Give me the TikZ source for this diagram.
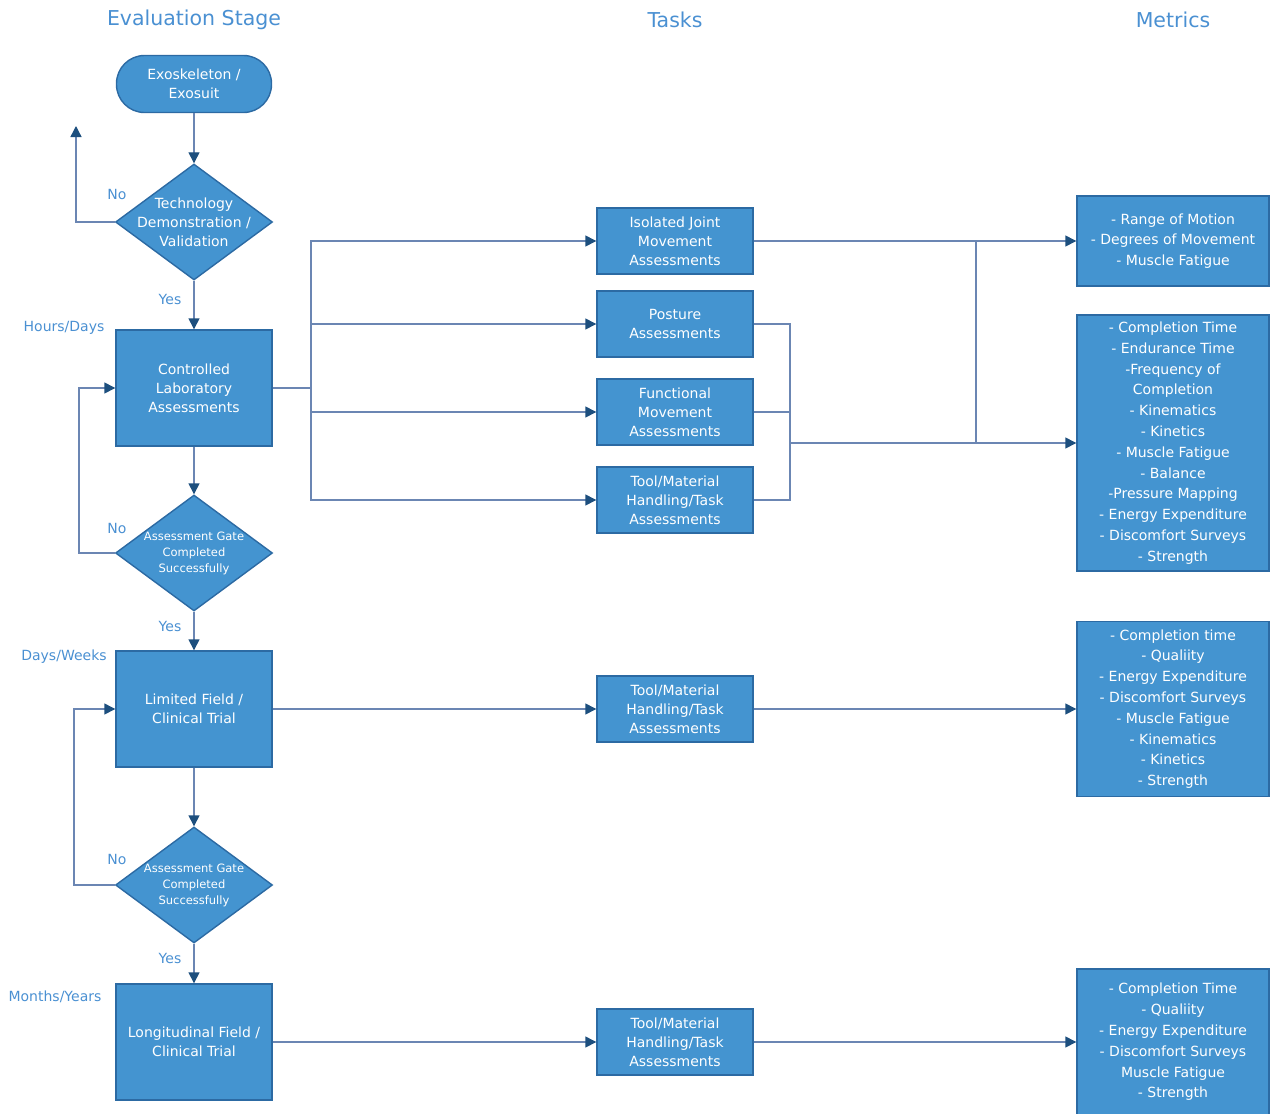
\documentclass[tikz,border=0pt]{standalone}
\usepackage{fontspec}
\setmainfont{DejaVu Sans}
\usepackage{xcolor}
\usepackage{tikz}
\usetikzlibrary{shapes,arrows.meta}
\usetikzlibrary{shapes.geometric}

\definecolor{boxblue}{HTML}{4494D0}
\definecolor{edgeblue}{HTML}{2C6AA3}
\definecolor{lineblue}{HTML}{6B86B3}
\definecolor{tipblue}{HTML}{1D4F7E}
\definecolor{titleblue}{HTML}{4A90D2}

\begin{document}
\begin{tikzpicture}[x=1pt, y=-1pt,
    ttl/.style={text=titleblue, font=\fontsize{20.5}{24}\selectfont},
    lbl/.style={text=titleblue, font=\fontsize{14}{16}\selectfont},
    stage/.style={rectangle, draw=edgeblue, fill=boxblue, line width=1.4pt, text=white, align=center,
                  minimum width=156pt, minimum height=116pt, font=\fontsize{14}{19}\selectfont},
    task/.style={stage, minimum height=66pt},
    metric/.style={stage, minimum width=192pt, font=\fontsize{14}{20.8}\selectfont},
    term/.style={stage, rounded corners=28pt, minimum width=155pt, minimum height=57pt},
    gate/.style={diamond, draw=edgeblue, fill=boxblue, line width=1.4pt, inner sep=0pt,
                 minimum width=157pt, minimum height=116pt},
    gatetext/.style={text=white, align=center, font=\fontsize{14}{19}\selectfont},
    gatesmall/.style={text=white, align=center, font=\fontsize{11.5}{16}\selectfont},
    line/.style={draw=lineblue, line width=1.4pt},
    flow/.style={line, -{Triangle[color=tipblue, length=11pt, width=11pt]}}]

        \useasboundingbox (0,0) rectangle (1270,1114);

        % Headings
        \draw (194,20)  node(hstage)[ttl] {Evaluation Stage};
        \draw (675,20)  node(htasks)[ttl] {Tasks};
        \draw (1173,20) node(hmetrics)[ttl] {Metrics};

        % Stages
        \draw (194,84)   node(exo)[term] {Exoskeleton /\\Exosuit};
        \draw (194,222)  node(tech)[gate, label={[gatetext]center:Technology\\Demonstration /\\Validation}] {};
        \draw (194,388)  node(lab)[stage] {Controlled\\Laboratory\\Assessments};
        \draw (194,553)  node(gatea)[gate, label={[gatesmall]center:Assessment Gate\\Completed\\Successfully}] {};
        \draw (194,709)  node(field)[stage] {Limited Field /\\Clinical Trial};
        \draw (194,885)  node(gateb)[gate, label={[gatesmall]center:Assessment Gate\\Completed\\Successfully}] {};
        \draw (194,1042) node(longi)[stage] {Longitudinal Field /\\Clinical Trial};

        % Labels
        \draw (117,194)  node(noa)[lbl] {No};
        \draw (170,299)  node(yesa)[lbl] {Yes};
        \draw (64,328)   node(hours)[lbl] {Hours/Days};
        \draw (117,528)  node(nob)[lbl] {No};
        \draw (170,626)  node(yesb)[lbl] {Yes};
        \draw (64,657)   node(weeks)[lbl] {Days/Weeks};
        \draw (117,859)  node(noc)[lbl] {No};
        \draw (170,958)  node(yesc)[lbl] {Yes};
        \draw (55,997)   node(years)[lbl] {Months/Years};

        % Tasks
        \draw (675,241)  node(joint)[task] {Isolated Joint\\Movement\\Assessments};
        \draw (675,324)  node(posture)[task] {Posture\\Assessments};
        \draw (675,412)  node(func)[task] {Functional\\Movement\\Assessments};
        \draw (675,500)  node(toola)[task] {Tool/Material\\Handling/Task\\Assessments};
        \draw (675,709)  node(toolb)[task] {Tool/Material\\Handling/Task\\Assessments};
        \draw (675,1042) node(toolc)[task] {Tool/Material\\Handling/Task\\Assessments};

        % Metrics
        \draw (1173,241) node(mrange)[metric, minimum height=90pt]
            {- Range of Motion\\- Degrees of Movement\\- Muscle Fatigue};
        \draw (1173,443) node(mlab)[metric, minimum height=256pt]
            {- Completion Time\\- Endurance Time\\-Frequency of\\Completion\\- Kinematics\\- Kinetics\\
             - Muscle Fatigue\\- Balance\\-Pressure Mapping\\- Energy Expenditure\\- Discomfort Surveys\\- Strength};
        \draw (1173,709) node(mfield)[metric, minimum height=175pt]
            {- Completion time\\- Qualiity\\- Energy Expenditure\\- Discomfort Surveys\\- Muscle Fatigue\\
             - Kinematics\\- Kinetics\\- Strength};
        \draw (1173,1042) node(mlongi)[metric, minimum height=146pt]
            {- Completion Time\\- Qualiity\\- Energy Expenditure\\- Discomfort Surveys\\Muscle Fatigue\\- Strength};

        % Bus points
        \coordinate (back) at (76,126);
        \coordinate (labbus) at (311,388);
        \coordinate (taskbus) at (790,443);
        \coordinate (joina) at (976,241);
        \coordinate (joinb) at (976,443);

        % Edges, stage column
        \draw[flow] (exo) -- (tech);
        \draw[flow] (tech.west) -| (back);
        \draw[flow] (tech) -- (lab);
        \draw[flow] (lab) -- (gatea);
        \draw[flow] (gatea.west) -- ++(-36,0) |- (lab.west);
        \draw[flow] (gatea) -- (field);
        \draw[flow] (field) -- (gateb);
        \draw[flow] (gateb.west) -- ++(-41,0) |- (field.west);
        \draw[flow] (gateb) -- (longi);

        % Edges, tasks
        \draw[line] (lab.east) -- (labbus);
        \draw[flow] (labbus) |- (joint.west);
        \draw[flow] (labbus) |- (posture.west);
        \draw[flow] (labbus) |- (func.west);
        \draw[flow] (labbus) |- (toola.west);
        \draw[flow] (field.east) -- (toolb.west);
        \draw[flow] (longi.east) -- (toolc.west);

        % Edges, metrics
        \draw[flow] (joint.east) -- (mrange.west);
        \draw[line] (posture.east) -| (taskbus);
        \draw[line] (func.east) -| (taskbus);
        \draw[line] (toola.east) -| (taskbus);
        \draw[flow] (taskbus) -- (mlab.west);
        \draw[line] (joina) -- (joinb);
        \draw[flow] (toolb.east) -- (mfield.west);
        \draw[flow] (toolc.east) -- (mlongi.west);

\end{tikzpicture}
\end{document}
